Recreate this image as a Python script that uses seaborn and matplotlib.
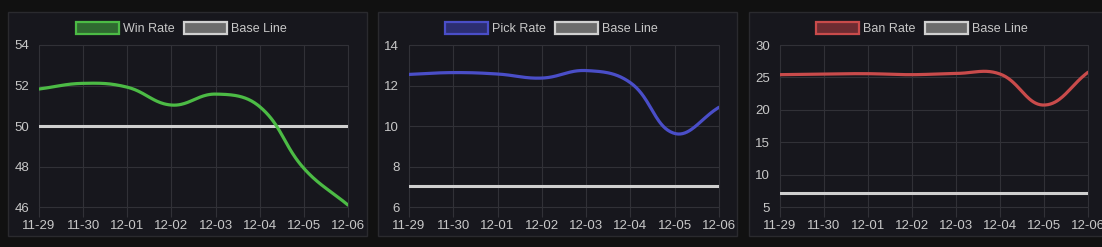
import numpy as np
import pandas as pd
import matplotlib
matplotlib.use("Agg")
import matplotlib.pyplot as plt
from matplotlib.patches import Rectangle, Patch
import seaborn as sns

# ---- data ----
dates = ["11-29", "11-30", "12-01", "12-02", "12-03", "12-04", "12-05", "12-06"]
win_rate = [51.83, 52.11, 51.92, 51.04, 51.58, 50.96, 47.92, 46.11]
pick_rate = [12.55, 12.64, 12.57, 12.37, 12.74, 12.14, 9.64, 10.93]
ban_rate = [25.43, 25.53, 25.58, 25.43, 25.62, 25.53, 20.75, 25.80]
win_base = [50.0] * 8
pick_base = [7.06] * 8
ban_base = [7.14] * 8
win_ticks = [46, 48, 50, 52, 54]
pick_ticks = [6, 8, 10, 12, 14]
ban_ticks = [5, 10, 15, 20, 25, 30]

sns.set_theme(style="dark")
plt.rcParams["font.family"] = ["Liberation Sans", "DejaVu Sans"]

W, H = 1102, 247
fig = plt.figure(figsize=(W / 100, H / 100), dpi=100, facecolor="#111111")

BG = "#17171d"
GRID = "#313137"
TXT = "#c8c8c8"


def fx(px):
    return px / W


def fy(py):
    return 1 - py / H


def smooth(ax, xs, ys, tension=0.4, n=40):
    pts = ax.transData.transform(np.column_stack([xs, ys]))
    m = len(pts)
    cps = []
    for i in range(m):
        prev = pts[i - 1] if i > 0 else pts[i]
        cur = pts[i]
        nxt = pts[i + 1] if i < m - 1 else pts[i]
        d01 = np.hypot(*(cur - prev))
        d12 = np.hypot(*(nxt - cur))
        s = d01 + d12
        fa = tension * d01 / s if s else 0
        fb = tension * d12 / s if s else 0
        cps.append((cur - fa * (nxt - prev), cur + fb * (nxt - prev)))
    out = []
    t = np.linspace(0, 1, n)[:, None]
    for i in range(m - 1):
        p0 = pts[i]
        p1 = cps[i][1]
        p2 = cps[i + 1][0]
        p3 = pts[i + 1]
        seg = ((1 - t) ** 3) * p0 + 3 * ((1 - t) ** 2) * t * p1 + 3 * (1 - t) * t ** 2 * p2 + t ** 3 * p3
        out.append(seg if i == 0 else seg[1:])
    out = np.vstack(out)
    d = ax.transData.inverted().transform(out)
    return d[:, 0], d[:, 1]


panels = [
    dict(px=(8, 367), ax=(39, 348), vals=win_rate, base=win_base, ticks=win_ticks,
         lim=(46, 54), color="#4cbb45", fill="#2f6a30", label="Win Rate", legx=181.5),
    dict(px=(378, 737), ax=(409, 719), vals=pick_rate, base=pick_base, ticks=pick_ticks,
         lim=(6, 14), color="#4a4ec8", fill="#2c2e72", label="Pick Rate", legx=551.7),
    dict(px=(749, 1110), ax=(780, 1088), vals=ban_rate, base=ban_base, ticks=ban_ticks,
         lim=(5, 30), color="#c94b4b", fill="#6e2c32", label="Ban Rate", legx=922),
]

top, bottom = 45, 207.3
for p in panels:
    x0, x1 = p["px"]
    fig.add_artist(Rectangle((fx(x0), fy(236)), fx(x1 - x0), (236 - 12) / H,
                             transform=fig.transFigure, facecolor=BG,
                             edgecolor="#2a2a2e", lw=1, zorder=0))
    a0, a1 = p["ax"]
    ax = fig.add_axes([fx(a0), fy(bottom), fx(a1 - a0), (bottom - top) / H])
    ax.set_facecolor("none")
    ax.set_xlim(0, len(dates) - 1)
    ax.set_ylim(*p["lim"])
    xs = np.arange(len(dates))
    sns.lineplot(x=xs, y=p["base"], ax=ax, color="#cfcfcf", lw=2.2, zorder=3)
    sx, sy = smooth(ax, xs, p["vals"])
    sns.lineplot(x=sx, y=sy, ax=ax, color=p["color"], lw=2.3, sort=False,
                 estimator=None, zorder=4)
    ax.set_xticks(xs)
    ax.set_xticklabels(dates)
    ax.set_yticks(p["ticks"])
    ax.set_yticklabels([str(v) for v in p["ticks"]])
    ax.grid(True, color=GRID, lw=0.8)
    for g in ax.get_xgridlines() + ax.get_ygridlines():
        g.set_clip_on(False)
    for s in ax.spines.values():
        s.set_visible(False)
    ax.tick_params(axis="x", length=7, color=GRID, width=0.8, pad=2,
                   labelsize=9.5, labelcolor=TXT, bottom=True)
    ax.tick_params(axis="y", length=0, pad=7, labelsize=9.5, labelcolor=TXT, left=True)
    ax.set_xlabel("")
    ax.set_ylabel("")
    handles = [
        Patch(facecolor=p["fill"], edgecolor=p["color"], lw=1.6, label=p["label"]),
        Patch(facecolor="#6c6c6c", edgecolor="#d0d0d0", lw=1.6, label="Base Line"),
    ]
    fig.legend(handles=handles, loc="center", bbox_to_anchor=(fx(p["legx"]), fy(28.5)),
               ncol=2, frameon=False, fontsize=9, labelcolor=TXT,
               handlelength=3.4, handleheight=1.1, handletextpad=0.35,
               columnspacing=0.75, borderpad=0, borderaxespad=0)

fig.savefig("out.png", dpi=100, facecolor=fig.get_facecolor())
